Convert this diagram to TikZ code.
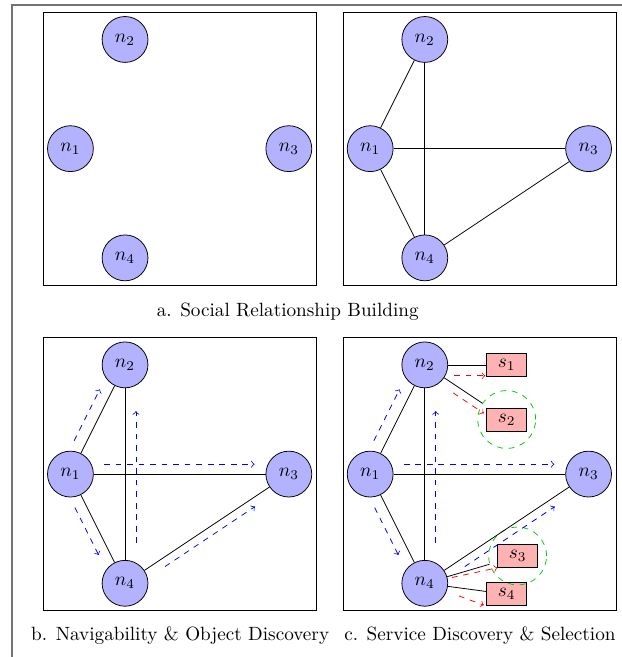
\documentclass[tikz,border=0pt]{standalone}
\usepackage{amsmath}
\usetikzlibrary{positioning,calc}
\tikzstyle{peer} = [draw, circle, fill=blue!30, minimum size=0.84cm, inner sep=1pt]
\tikzstyle{service} = [draw, rectangle, fill=red!30, minimum width=0.73cm, minimum height=0.42cm, inner sep=1pt]
\tikzstyle{zone} = [draw=green!80!black, dashed, circle, minimum size=1.06cm]
\tikzstyle{frame} = [draw=black!55, line width=0.7pt]
\tikzstyle{disc} = [->, dashed, blue]
\tikzstyle{sel} = [->, dashed, red]
\tikzset{moved/.style={transform canvas={shift={#1}}}}

\begin{document}
\begin{tikzpicture}
\useasboundingbox (0,0) rectangle (11.374,12.033);
\draw[frame] (0.22,-1) -- (0.22,11.94) -- (12,11.94);

% a. peers only
\begin{scope}[shift={(0.79,6.81)}]
	\draw (0,0) rectangle (5,5);
	\node (u1) [peer] at (0.5,2.5) {$n_1$};
	\node (u2) [peer] at (1.5,4.5) {$n_2$};
	\node (u3) [peer] at (4.5,2.5) {$n_3$};
	\node (u4) [peer] at (1.5,0.5) {$n_4$};
\end{scope}

% a. relationships
\begin{scope}[shift={(6.28,6.81)}]
	\draw (0,0) rectangle (5,5);
	\node (a1) [peer] at (0.5,2.5) {$n_1$};
	\node (a2) [peer] at (1.5,4.5) {$n_2$};
	\node (a3) [peer] at (4.5,2.5) {$n_3$};
	\node (a4) [peer] at (1.5,0.5) {$n_4$};
	\draw (a1) -- (a2);
	\draw (a1) -- (a3);
	\draw (a1) -- (a4);
	\draw (a2) -- (a4);
	\draw (a4) -- (a3);
\end{scope}
\node (capa) at (5.27,6.32) {a. Social Relationship Building};

% b. navigability
\begin{scope}[shift={(0.79,0.85)}]
	\draw (0,0) rectangle (5,5);
	\node (b1) [peer] at (0.5,2.5) {$n_1$};
	\node (b2) [peer] at (1.5,4.5) {$n_2$};
	\node (b3) [peer] at (4.5,2.5) {$n_3$};
	\node (b4) [peer] at (1.5,0.5) {$n_4$};
	\draw (b1) -- (b2);
	\draw (b1) -- (b3);
	\draw (b1) -- (b4);
	\draw (b2) -- (b4);
	\draw (b4) -- (b3);
	\draw[disc, moved={(-0.19,0.095)}, shorten <=0.15cm, shorten >=0.18cm] (b1) -- (b2);
	\draw[disc, moved={(-0.18,-0.088)}, shorten <=0.16cm, shorten >=0.25cm] (b1) -- (b4);
	\draw[disc, moved={(0,0.18)}, shorten <=0.19cm, shorten >=0.2cm] (b1) -- (b3);
	\draw[disc, moved={(0.2,0)}, shorten <=0.31cm, shorten >=0.42cm] (b4) -- (b2);
	\draw[disc, moved={(0.085,-0.126)}, shorten <=0.35cm, shorten >=0.42cm] (b4) -- (b3);
\end{scope}
\node (capb) at (3.30,0.385) {b. Navigability \& Object Discovery};

% c. service discovery
\begin{scope}[shift={(6.28,0.85)}]
	\draw (0,0) rectangle (5,5);
	\node (c1) [peer] at (0.5,2.5) {$n_1$};
	\node (c2) [peer] at (1.5,4.5) {$n_2$};
	\node (c3) [peer] at (4.5,2.5) {$n_3$};
	\node (c4) [peer] at (1.5,0.5) {$n_4$};
	\node (s1) [service] at (3,4.5) {$s_1$};
	\node (s2) [service] at (3,3.5) {$s_2$};
	\node (s3) [service] at (3.2,1) {$s_3$};
	\node (s4) [service] at (3,0.3) {$s_4$};
	\node (g2) [zone] at (s2) {};
	\node (g3) [zone] at (s3) {};
	\draw (c1) -- (c2);
	\draw (c1) -- (c3);
	\draw (c1) -- (c4);
	\draw (c2) -- (c4);
	\draw (c4) -- (c3);
	\draw (c2) -- (s1);
	\draw (c2) -- (g2);
	\draw (c4) -- (g3);
	\draw (c4) -- (s4);
	\draw[disc, moved={(-0.19,0.095)}, shorten <=0.15cm, shorten >=0.18cm] (c1) -- (c2);
	\draw[disc, moved={(-0.18,-0.088)}, shorten <=0.16cm, shorten >=0.25cm] (c1) -- (c4);
	\draw[disc, moved={(0,0.18)}, shorten <=0.19cm, shorten >=0.2cm] (c1) -- (c3);
	\draw[disc, moved={(0.2,0)}, shorten <=0.31cm, shorten >=0.42cm] (c4) -- (c2);
	\draw[disc, moved={(0.085,-0.126)}, shorten <=0.35cm, shorten >=0.42cm] (c4) -- (c3);
	\draw[sel, moved={(0,-0.2)}, shorten <=0.11cm, shorten >=0.02cm] (c2) -- (s1);
	\draw[sel, moved={(-0.077,-0.114)}, shorten <=0.29cm, shorten >=0.02cm] (c2) -- (s2);
	\draw[sel, shorten <=0.08cm] (c4) -- (s3.south west);
	\draw[sel, shorten <=0.24cm, shorten >=0.05cm] (c4) -- (s4.south west);
\end{scope}
\node (capc) at (8.79,0.385) {c. Service Discovery \& Selection};
\end{tikzpicture}
\end{document}
